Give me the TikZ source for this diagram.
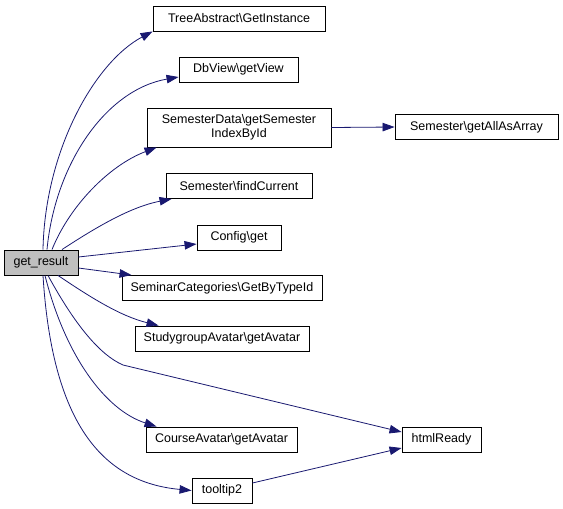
\documentclass[tikz,border=0pt]{standalone}
\usepackage{fontspec}
\setmainfont{Liberation Sans}
\usetikzlibrary{arrows.meta}

\definecolor{edgeblue}{RGB}{25,25,112}
\definecolor{callergray}{RGB}{191,191,191}

\tikzset{
  fn/.style={draw=black, line width=0.9pt, fill=white, inner sep=0pt,
    minimum height=25pt, font=\fontsize{12.5}{14.5}\selectfont, align=center},
  call/.style={draw=edgeblue, line width=0.8pt,
    -{Triangle[length=12pt, width=8.5pt]}, fill=none},
}

\begin{document}
\begin{tikzpicture}[x=1pt, y=-1pt]
  \useasboundingbox (0,0) rectangle (563,509);

  % Nodes first

  \node[fn, fill=callergray, minimum width=74pt] (gr) at (41,262.5) {get\_result};

  \node[fn, minimum width=172pt] (ta)  at (239,18.5)  {TreeAbstract\textbackslash GetInstance};
  \node[fn, minimum width=119pt] (dbv) at (238.5,69.5) {DbView\textbackslash getView};
  \node[fn, minimum width=184pt, minimum height=39pt] (sd) at (239,127.5)
    {SemesterData\textbackslash getSemester\\IndexById};
  \node[fn, minimum width=146pt] (fc)  at (239,186)   {Semester\textbackslash findCurrent};
  \node[fn, minimum width=84pt]  (cfg) at (239,237.5) {Config\textbackslash get};
  \node[fn, minimum width=200pt] (sc)  at (222,288)   {SeminarCategories\textbackslash GetByTypeId};
  \node[fn, minimum width=174pt] (sg)  at (222,338.5) {StudygroupAvatar\textbackslash getAvatar};
  \node[fn, minimum width=151pt] (ca)  at (221.5,439.5) {CourseAvatar\textbackslash getAvatar};
  \node[fn, minimum width=60pt]  (tt)  at (222,490.5) {tooltip2};

  \node[fn, minimum width=163pt] (gaa) at (476.5,127) {Semester\textbackslash getAllAsArray};
  \node[fn, minimum width=79pt]  (hr)  at (441.5,439.5) {htmlReady};

  % Then the calls

  \draw[call] ([xshift=2pt]gr.north) .. controls (45,150) and (95,62) .. (ta.south west);
  \draw[call] ([xshift=6pt]gr.north) .. controls (55,165) and (105,90) .. ([yshift=-7.5pt]dbv.west);
  \draw[call] ([xshift=11pt]gr.north) .. controls (70,205) and (110,165) .. ([xshift=10pt]sd.south west);
  \draw[call] ([xshift=21pt]gr.north) .. controls (95,228) and (130,207) .. ([xshift=6pt]fc.south west);
  \draw[call] ([yshift=5.5pt]gr.east) -- ([yshift=-6.5pt]cfg.west);
  \draw[call] ([yshift=-5.5pt]gr.east) -- ([xshift=10pt]sc.north west);
  \draw[call] ([xshift=17pt]gr.south) .. controls (90,297) and (120,316) .. ([xshift=24pt]sg.north west);
  \draw[call] ([xshift=7pt]gr.south) .. controls (75,325) and (100,355) .. (123,365)
    -- ([yshift=7.5pt]hr.west);
  \draw[call] ([xshift=4pt]gr.south) .. controls (65,355) and (105,410) .. ([xshift=11pt]ca.north west);
  \draw[call] ([xshift=2pt]gr.south) .. controls (52,420) and (100,482) .. (tt.west);

  \draw[call] (sd.east) -- (gaa.west);
  \draw[call] ([yshift=7.5pt]tt.east) -- ([yshift=-8.5pt]hr.west);
\end{tikzpicture}
\end{document}
